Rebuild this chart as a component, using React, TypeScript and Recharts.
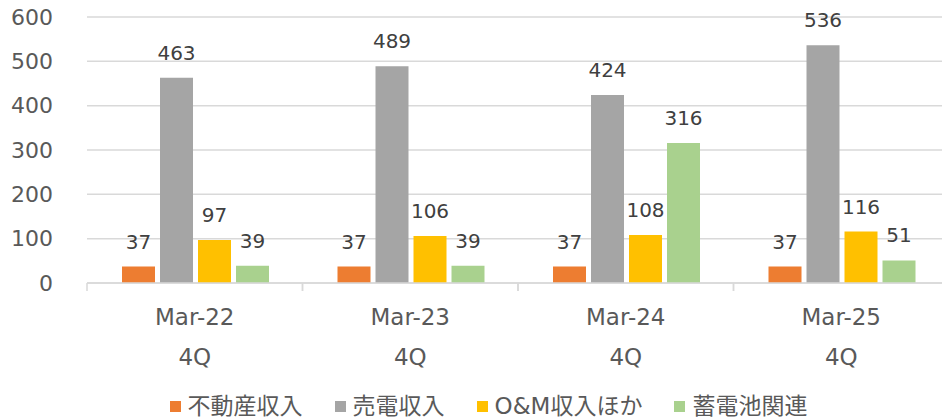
import React from 'react';
import { BarChart, Bar, XAxis, YAxis, CartesianGrid, Legend, LabelList } from 'recharts';

const periods = ['Mar-22', 'Mar-23', 'Mar-24', 'Mar-25'];
const quarters = ['4Q', '4Q', '4Q', '4Q'];
const realEstate = [37, 37, 37, 37];
const powerSales = [463, 489, 424, 536];
const omOther = [97, 106, 108, 116];
const battery = [39, 39, 316, 51];
const yTicks = [0, 100, 200, 300, 400, 500, 600];

const seriesNames = ['不動産収入', '売電収入', 'O&M収入ほか', '蓄電池関連'];
const seriesColors = ['#ED7D31', '#A5A5A5', '#FFC000', '#A9D18E'];

const data = periods.map((p, i) => ({
  period: p,
  quarter: quarters[i],
  realEstate: realEstate[i],
  powerSales: powerSales[i],
  omOther: omOther[i],
  battery: battery[i],
}));

const FONT = '"DejaVu Sans", "Noto Sans CJK JP", sans-serif';
const TEXT = '#595959';
const GRID = '#D9D9D9';

// plot spans 87..949, four categories
const BAND = (949 - 87) / periods.length;

const CategoryTick = (props: any) => {
  const { x, y, payload, index } = props;
  return (
    <g>
      <line x1={x - BAND / 2} y1={y} x2={x - BAND / 2} y2={y + 8} stroke={GRID} strokeWidth={1.5} />
      <line x1={x + BAND / 2} y1={y} x2={x + BAND / 2} y2={y + 8} stroke={GRID} strokeWidth={1.5} />
      <text x={x} y={y + 42} textAnchor="middle" fill={TEXT} fontSize={23} fontFamily={FONT}>
        {payload.value}
      </text>
      <text x={x} y={y + 82} textAnchor="middle" fill={TEXT} fontSize={23} fontFamily={FONT}>
        {quarters[index]}
      </text>
    </g>
  );
};

const LegendContent = () => (
  <div
    style={{
      height: 36,
      boxSizing: 'border-box',
      paddingTop: 10,
      display: 'flex',
      justifyContent: 'center',
      alignItems: 'center',
      paddingLeft: 28,
      fontFamily: FONT,
      fontSize: 23,
      lineHeight: '23px',
      color: TEXT,
    }}
  >
    {seriesNames.map((name, i) => (
      <div key={name} style={{ display: 'flex', alignItems: 'center', marginRight: i < 3 ? 32 : 0 }}>
        <span style={{ width: 11, height: 11, background: seriesColors[i], marginRight: 7, display: 'inline-block' }} />
        <span>{name}</span>
      </div>
    ))}
  </div>
);

const keys = ['realEstate', 'powerSales', 'omOther', 'battery'];

export default function App() {
  return (
    <div style={{ position: 'absolute', left: 0, top: 0, width: 942, height: 419, overflow: 'hidden', background: '#fff' }}>
      <BarChart
        width={950}
        height={419}
        data={data}
        margin={{ top: 17, right: 1, bottom: 0, left: 0 }}
        barCategoryGap={35}
        barGap={5}
      >
        <CartesianGrid vertical={false} stroke={GRID} strokeWidth={1.5} />
        <XAxis
          dataKey="period"
          height={100}
          axisLine={{ stroke: GRID, strokeWidth: 1.5 }}
          tickLine={false}
          tickSize={0}
          tickMargin={0}
          tick={<CategoryTick />}
          interval={0}
        />
        <YAxis
          width={87}
          domain={[0, 600]}
          ticks={yTicks}
          axisLine={false}
          tickLine={false}
          tickSize={0}
          tickMargin={34}
          tick={{ fill: TEXT, fontSize: 22, fontFamily: FONT }}
        />
        <Legend verticalAlign="bottom" content={<LegendContent />} />
        {keys.map((k, i) => (
          <Bar key={k} dataKey={k} name={seriesNames[i]} fill={seriesColors[i]} isAnimationActive={false}>
            <LabelList dataKey={k} position="top" offset={18} fill="#404040" fontSize={20} fontFamily={FONT} />
          </Bar>
        ))}
      </BarChart>
    </div>
  );
}
